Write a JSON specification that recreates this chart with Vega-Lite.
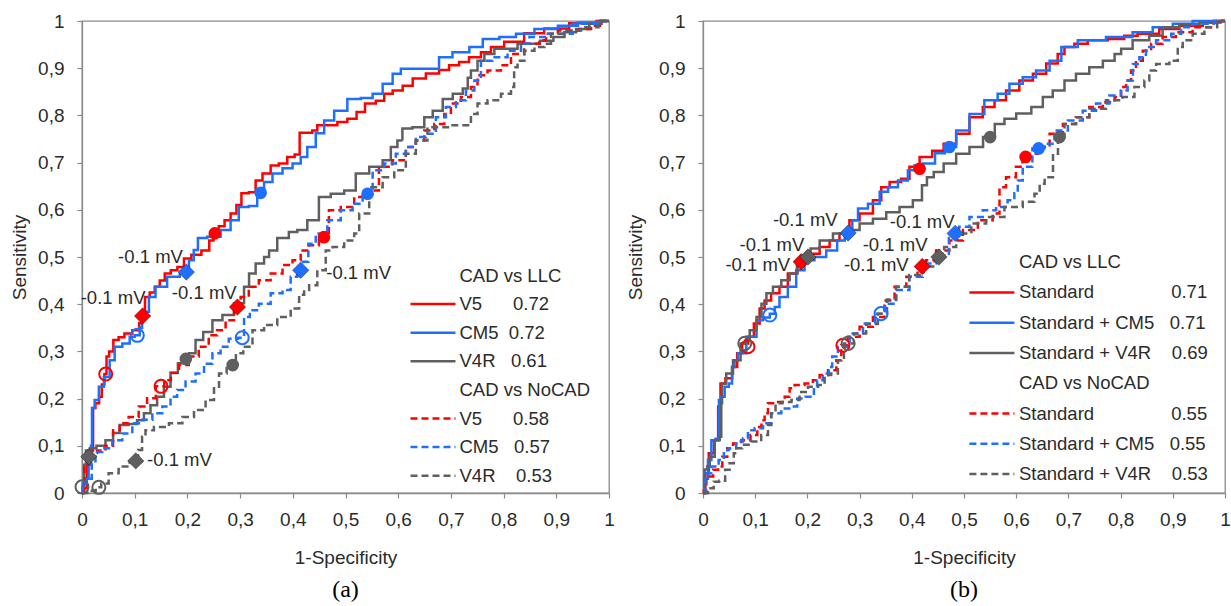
{
"$schema": "https://vega.github.io/schema/vega-lite/v6.json",
"background": "white",
"padding": {"left": 9, "top": 11, "right": 0, "bottom": 0},
"spacing": 11,
"resolve": {"scale": {"color": "independent", "strokeDash": "independent"}, "legend": {"color": "independent", "strokeDash": "independent"}},
"config": {
  "font": "Liberation Sans",
  "view": {"stroke": "#8a8a8a", "strokeWidth": 1.3},
  "axis": {"domainColor": "#8a8a8a", "domainWidth": 1.3, "tickColor": "#8a8a8a", "tickWidth": 1.2, "tickSize": 5, "grid": false, "labelFont": "Liberation Sans", "labelFontSize": 19, "labelColor": "#2b2b2b", "titleFont": "Liberation Sans", "titleFontSize": 19, "titleFontWeight": "normal", "titleColor": "#2b2b2b", "labelFlush": false, "labelOverlap": false}
},
"datasets": {
  "curvesA": [
    {"series":"LLC V5","x":0,"y":0},{"series":"LLC V5","x":0.008,"y":0.01},{"series":"LLC V5","x":0.01,"y":0.06},{"series":"LLC V5","x":0.015,"y":0.09},{"series":"LLC V5","x":0.021,"y":0.09},{"series":"LLC V5","x":0.021,"y":0.18},{"series":"LLC V5","x":0.03,"y":0.19},{"series":"LLC V5","x":0.035,"y":0.204},{"series":"LLC V5","x":0.04,"y":0.23},{"series":"LLC V5","x":0.045,"y":0.252},{"series":"LLC V5","x":0.048,"y":0.289},{"series":"LLC V5","x":0.055,"y":0.3},{"series":"LLC V5","x":0.064,"y":0.324},{"series":"LLC V5","x":0.075,"y":0.33},{"series":"LLC V5","x":0.086,"y":0.338},{"series":"LLC V5","x":0.105,"y":0.345},{"series":"LLC V5","x":0.112,"y":0.36},{"series":"LLC V5","x":0.115,"y":0.375},{"series":"LLC V5","x":0.124,"y":0.415},{"series":"LLC V5","x":0.133,"y":0.425},{"series":"LLC V5","x":0.143,"y":0.437},{"series":"LLC V5","x":0.152,"y":0.45},{"series":"LLC V5","x":0.162,"y":0.465},{"series":"LLC V5","x":0.175,"y":0.472},{"series":"LLC V5","x":0.187,"y":0.479},{"series":"LLC V5","x":0.2,"y":0.497},{"series":"LLC V5","x":0.215,"y":0.505},{"series":"LLC V5","x":0.238,"y":0.514},{"series":"LLC V5","x":0.245,"y":0.535},{"series":"LLC V5","x":0.254,"y":0.55},{"series":"LLC V5","x":0.265,"y":0.565},{"series":"LLC V5","x":0.276,"y":0.578},{"series":"LLC V5","x":0.288,"y":0.592},{"series":"LLC V5","x":0.298,"y":0.61},{"series":"LLC V5","x":0.307,"y":0.635},{"series":"LLC V5","x":0.326,"y":0.637},{"series":"LLC V5","x":0.333,"y":0.662},{"series":"LLC V5","x":0.352,"y":0.677},{"series":"LLC V5","x":0.364,"y":0.694},{"series":"LLC V5","x":0.383,"y":0.698},{"series":"LLC V5","x":0.396,"y":0.712},{"series":"LLC V5","x":0.411,"y":0.717},{"series":"LLC V5","x":0.415,"y":0.763},{"series":"LLC V5","x":0.434,"y":0.763},{"series":"LLC V5","x":0.44,"y":0.768},{"series":"LLC V5","x":0.453,"y":0.779},{"series":"LLC V5","x":0.478,"y":0.779},{"series":"LLC V5","x":0.491,"y":0.786},{"series":"LLC V5","x":0.516,"y":0.793},{"series":"LLC V5","x":0.526,"y":0.807},{"series":"LLC V5","x":0.548,"y":0.825},{"series":"LLC V5","x":0.567,"y":0.831},{"series":"LLC V5","x":0.58,"y":0.846},{"series":"LLC V5","x":0.599,"y":0.853},{"series":"LLC V5","x":0.618,"y":0.863},{"series":"LLC V5","x":0.637,"y":0.878},{"series":"LLC V5","x":0.668,"y":0.889},{"series":"LLC V5","x":0.687,"y":0.896},{"series":"LLC V5","x":0.706,"y":0.906},{"series":"LLC V5","x":0.725,"y":0.913},{"series":"LLC V5","x":0.744,"y":0.923},{"series":"LLC V5","x":0.77,"y":0.934},{"series":"LLC V5","x":0.782,"y":0.945},{"series":"LLC V5","x":0.82,"y":0.956},{"series":"LLC V5","x":0.858,"y":0.974},{"series":"LLC V5","x":0.896,"y":0.984},{"series":"LLC V5","x":0.953,"y":0.995},{"series":"LLC V5","x":1,"y":1},

    {"series":"LLC CM5","x":0,"y":0},{"series":"LLC CM5","x":0.003,"y":0.02},{"series":"LLC CM5","x":0.01,"y":0.03},{"series":"LLC CM5","x":0.015,"y":0.06},{"series":"LLC CM5","x":0.019,"y":0.1},{"series":"LLC CM5","x":0.019,"y":0.18},{"series":"LLC CM5","x":0.029,"y":0.197},{"series":"LLC CM5","x":0.035,"y":0.225},{"series":"LLC CM5","x":0.048,"y":0.246},{"series":"LLC CM5","x":0.057,"y":0.281},{"series":"LLC CM5","x":0.067,"y":0.31},{"series":"LLC CM5","x":0.086,"y":0.317},{"series":"LLC CM5","x":0.095,"y":0.331},{"series":"LLC CM5","x":0.105,"y":0.334},{"series":"LLC CM5","x":0.114,"y":0.35},{"series":"LLC CM5","x":0.114,"y":0.384},{"series":"LLC CM5","x":0.124,"y":0.384},{"series":"LLC CM5","x":0.13,"y":0.415},{"series":"LLC CM5","x":0.149,"y":0.437},{"series":"LLC CM5","x":0.174,"y":0.458},{"series":"LLC CM5","x":0.197,"y":0.465},{"series":"LLC CM5","x":0.209,"y":0.493},{"series":"LLC CM5","x":0.215,"y":0.515},{"series":"LLC CM5","x":0.225,"y":0.54},{"series":"LLC CM5","x":0.25,"y":0.543},{"series":"LLC CM5","x":0.276,"y":0.557},{"series":"LLC CM5","x":0.288,"y":0.578},{"series":"LLC CM5","x":0.307,"y":0.606},{"series":"LLC CM5","x":0.326,"y":0.608},{"series":"LLC CM5","x":0.339,"y":0.636},{"series":"LLC CM5","x":0.352,"y":0.659},{"series":"LLC CM5","x":0.371,"y":0.677},{"series":"LLC CM5","x":0.39,"y":0.688},{"series":"LLC CM5","x":0.409,"y":0.698},{"series":"LLC CM5","x":0.421,"y":0.712},{"series":"LLC CM5","x":0.434,"y":0.733},{"series":"LLC CM5","x":0.453,"y":0.762},{"series":"LLC CM5","x":0.466,"y":0.789},{"series":"LLC CM5","x":0.491,"y":0.81},{"series":"LLC CM5","x":0.516,"y":0.835},{"series":"LLC CM5","x":0.542,"y":0.837},{"series":"LLC CM5","x":0.561,"y":0.846},{"series":"LLC CM5","x":0.58,"y":0.867},{"series":"LLC CM5","x":0.599,"y":0.888},{"series":"LLC CM5","x":0.611,"y":0.899},{"series":"LLC CM5","x":0.668,"y":0.899},{"series":"LLC CM5","x":0.687,"y":0.923},{"series":"LLC CM5","x":0.719,"y":0.934},{"series":"LLC CM5","x":0.751,"y":0.945},{"series":"LLC CM5","x":0.77,"y":0.962},{"series":"LLC CM5","x":0.814,"y":0.966},{"series":"LLC CM5","x":0.833,"y":0.973},{"series":"LLC CM5","x":0.884,"y":0.983},{"series":"LLC CM5","x":0.922,"y":0.99},{"series":"LLC CM5","x":0.96,"y":0.997},{"series":"LLC CM5","x":1,"y":1},

    {"series":"LLC V4R","x":0,"y":0},{"series":"LLC V4R","x":0.003,"y":0.013},{"series":"LLC V4R","x":0.005,"y":0.06},{"series":"LLC V4R","x":0.01,"y":0.09},{"series":"LLC V4R","x":0.02,"y":0.095},{"series":"LLC V4R","x":0.035,"y":0.1},{"series":"LLC V4R","x":0.054,"y":0.112},{"series":"LLC V4R","x":0.064,"y":0.127},{"series":"LLC V4R","x":0.079,"y":0.144},{"series":"LLC V4R","x":0.098,"y":0.146},{"series":"LLC V4R","x":0.111,"y":0.154},{"series":"LLC V4R","x":0.124,"y":0.169},{"series":"LLC V4R","x":0.136,"y":0.186},{"series":"LLC V4R","x":0.149,"y":0.204},{"series":"LLC V4R","x":0.162,"y":0.225},{"series":"LLC V4R","x":0.174,"y":0.254},{"series":"LLC V4R","x":0.19,"y":0.275},{"series":"LLC V4R","x":0.197,"y":0.284},{"series":"LLC V4R","x":0.209,"y":0.296},{"series":"LLC V4R","x":0.222,"y":0.324},{"series":"LLC V4R","x":0.238,"y":0.341},{"series":"LLC V4R","x":0.257,"y":0.366},{"series":"LLC V4R","x":0.276,"y":0.377},{"series":"LLC V4R","x":0.301,"y":0.402},{"series":"LLC V4R","x":0.314,"y":0.437},{"series":"LLC V4R","x":0.32,"y":0.465},{"series":"LLC V4R","x":0.339,"y":0.486},{"series":"LLC V4R","x":0.352,"y":0.5},{"series":"LLC V4R","x":0.358,"y":0.514},{"series":"LLC V4R","x":0.383,"y":0.54},{"series":"LLC V4R","x":0.402,"y":0.553},{"series":"LLC V4R","x":0.415,"y":0.557},{"series":"LLC V4R","x":0.44,"y":0.578},{"series":"LLC V4R","x":0.459,"y":0.627},{"series":"LLC V4R","x":0.485,"y":0.634},{"series":"LLC V4R","x":0.51,"y":0.641},{"series":"LLC V4R","x":0.529,"y":0.677},{"series":"LLC V4R","x":0.561,"y":0.691},{"series":"LLC V4R","x":0.58,"y":0.705},{"series":"LLC V4R","x":0.592,"y":0.733},{"series":"LLC V4R","x":0.605,"y":0.747},{"series":"LLC V4R","x":0.611,"y":0.772},{"series":"LLC V4R","x":0.643,"y":0.775},{"series":"LLC V4R","x":0.656,"y":0.796},{"series":"LLC V4R","x":0.675,"y":0.81},{"series":"LLC V4R","x":0.694,"y":0.835},{"series":"LLC V4R","x":0.713,"y":0.846},{"series":"LLC V4R","x":0.732,"y":0.857},{"series":"LLC V4R","x":0.732,"y":0.88},{"series":"LLC V4R","x":0.744,"y":0.895},{"series":"LLC V4R","x":0.757,"y":0.916},{"series":"LLC V4R","x":0.77,"y":0.93},{"series":"LLC V4R","x":0.795,"y":0.941},{"series":"LLC V4R","x":0.858,"y":0.952},{"series":"LLC V4R","x":0.88,"y":0.958},{"series":"LLC V4R","x":0.909,"y":0.966},{"series":"LLC V4R","x":0.922,"y":0.976},{"series":"LLC V4R","x":0.953,"y":0.983},{"series":"LLC V4R","x":0.972,"y":0.994},{"series":"LLC V4R","x":1,"y":1},

    {"series":"NoCAD V5","x":0,"y":0},{"series":"NoCAD V5","x":0.004,"y":0.02},{"series":"NoCAD V5","x":0.005,"y":0.06},{"series":"NoCAD V5","x":0.022,"y":0.085},{"series":"NoCAD V5","x":0.035,"y":0.09},{"series":"NoCAD V5","x":0.054,"y":0.1},{"series":"NoCAD V5","x":0.064,"y":0.133},{"series":"NoCAD V5","x":0.079,"y":0.148},{"series":"NoCAD V5","x":0.098,"y":0.161},{"series":"NoCAD V5","x":0.117,"y":0.183},{"series":"NoCAD V5","x":0.13,"y":0.201},{"series":"NoCAD V5","x":0.15,"y":0.226},{"series":"NoCAD V5","x":0.162,"y":0.239},{"series":"NoCAD V5","x":0.175,"y":0.255},{"series":"NoCAD V5","x":0.193,"y":0.271},{"series":"NoCAD V5","x":0.212,"y":0.289},{"series":"NoCAD V5","x":0.231,"y":0.31},{"series":"NoCAD V5","x":0.25,"y":0.334},{"series":"NoCAD V5","x":0.263,"y":0.345},{"series":"NoCAD V5","x":0.282,"y":0.366},{"series":"NoCAD V5","x":0.295,"y":0.394},{"series":"NoCAD V5","x":0.307,"y":0.415},{"series":"NoCAD V5","x":0.326,"y":0.437},{"series":"NoCAD V5","x":0.345,"y":0.451},{"series":"NoCAD V5","x":0.371,"y":0.465},{"series":"NoCAD V5","x":0.39,"y":0.483},{"series":"NoCAD V5","x":0.409,"y":0.493},{"series":"NoCAD V5","x":0.421,"y":0.514},{"series":"NoCAD V5","x":0.44,"y":0.525},{"series":"NoCAD V5","x":0.459,"y":0.543},{"series":"NoCAD V5","x":0.478,"y":0.599},{"series":"NoCAD V5","x":0.504,"y":0.606},{"series":"NoCAD V5","x":0.529,"y":0.627},{"series":"NoCAD V5","x":0.554,"y":0.641},{"series":"NoCAD V5","x":0.573,"y":0.691},{"series":"NoCAD V5","x":0.605,"y":0.705},{"series":"NoCAD V5","x":0.624,"y":0.733},{"series":"NoCAD V5","x":0.643,"y":0.747},{"series":"NoCAD V5","x":0.656,"y":0.768},{"series":"NoCAD V5","x":0.681,"y":0.782},{"series":"NoCAD V5","x":0.694,"y":0.803},{"series":"NoCAD V5","x":0.706,"y":0.825},{"series":"NoCAD V5","x":0.732,"y":0.839},{"series":"NoCAD V5","x":0.744,"y":0.86},{"series":"NoCAD V5","x":0.757,"y":0.885},{"series":"NoCAD V5","x":0.782,"y":0.895},{"series":"NoCAD V5","x":0.808,"y":0.906},{"series":"NoCAD V5","x":0.82,"y":0.93},{"series":"NoCAD V5","x":0.858,"y":0.952},{"series":"NoCAD V5","x":0.877,"y":0.959},{"series":"NoCAD V5","x":0.884,"y":0.973},{"series":"NoCAD V5","x":0.922,"y":0.98},{"series":"NoCAD V5","x":0.966,"y":0.983},{"series":"NoCAD V5","x":0.966,"y":0.99},{"series":"NoCAD V5","x":1,"y":1},

    {"series":"NoCAD CM5","x":0,"y":0},{"series":"NoCAD CM5","x":0.003,"y":0.02},{"series":"NoCAD CM5","x":0.015,"y":0.03},{"series":"NoCAD CM5","x":0.022,"y":0.063},{"series":"NoCAD CM5","x":0.029,"y":0.087},{"series":"NoCAD CM5","x":0.048,"y":0.095},{"series":"NoCAD CM5","x":0.067,"y":0.112},{"series":"NoCAD CM5","x":0.086,"y":0.126},{"series":"NoCAD CM5","x":0.105,"y":0.148},{"series":"NoCAD CM5","x":0.124,"y":0.155},{"series":"NoCAD CM5","x":0.143,"y":0.169},{"series":"NoCAD CM5","x":0.162,"y":0.183},{"series":"NoCAD CM5","x":0.174,"y":0.204},{"series":"NoCAD CM5","x":0.187,"y":0.218},{"series":"NoCAD CM5","x":0.206,"y":0.236},{"series":"NoCAD CM5","x":0.225,"y":0.253},{"series":"NoCAD CM5","x":0.238,"y":0.274},{"series":"NoCAD CM5","x":0.257,"y":0.296},{"series":"NoCAD CM5","x":0.269,"y":0.31},{"series":"NoCAD CM5","x":0.288,"y":0.327},{"series":"NoCAD CM5","x":0.304,"y":0.329},{"series":"NoCAD CM5","x":0.311,"y":0.373},{"series":"NoCAD CM5","x":0.326,"y":0.387},{"series":"NoCAD CM5","x":0.345,"y":0.401},{"series":"NoCAD CM5","x":0.371,"y":0.423},{"series":"NoCAD CM5","x":0.39,"y":0.43},{"series":"NoCAD CM5","x":0.402,"y":0.458},{"series":"NoCAD CM5","x":0.415,"y":0.472},{"series":"NoCAD CM5","x":0.425,"y":0.49},{"series":"NoCAD CM5","x":0.434,"y":0.528},{"series":"NoCAD CM5","x":0.453,"y":0.55},{"series":"NoCAD CM5","x":0.478,"y":0.578},{"series":"NoCAD CM5","x":0.504,"y":0.599},{"series":"NoCAD CM5","x":0.523,"y":0.613},{"series":"NoCAD CM5","x":0.542,"y":0.634},{"series":"NoCAD CM5","x":0.561,"y":0.684},{"series":"NoCAD CM5","x":0.586,"y":0.698},{"series":"NoCAD CM5","x":0.605,"y":0.719},{"series":"NoCAD CM5","x":0.624,"y":0.733},{"series":"NoCAD CM5","x":0.643,"y":0.754},{"series":"NoCAD CM5","x":0.662,"y":0.761},{"series":"NoCAD CM5","x":0.681,"y":0.796},{"series":"NoCAD CM5","x":0.7,"y":0.818},{"series":"NoCAD CM5","x":0.719,"y":0.832},{"series":"NoCAD CM5","x":0.738,"y":0.853},{"series":"NoCAD CM5","x":0.751,"y":0.874},{"series":"NoCAD CM5","x":0.763,"y":0.916},{"series":"NoCAD CM5","x":0.795,"y":0.923},{"series":"NoCAD CM5","x":0.82,"y":0.937},{"series":"NoCAD CM5","x":0.846,"y":0.952},{"series":"NoCAD CM5","x":0.852,"y":0.966},{"series":"NoCAD CM5","x":0.909,"y":0.973},{"series":"NoCAD CM5","x":0.953,"y":0.994},{"series":"NoCAD CM5","x":1,"y":1},

    {"series":"NoCAD V4R","x":0,"y":0},{"series":"NoCAD V4R","x":0.02,"y":0.005},{"series":"NoCAD V4R","x":0.032,"y":0.012},{"series":"NoCAD V4R","x":0.041,"y":0.02},{"series":"NoCAD V4R","x":0.06,"y":0.042},{"series":"NoCAD V4R","x":0.079,"y":0.056},{"series":"NoCAD V4R","x":0.102,"y":0.068},{"series":"NoCAD V4R","x":0.111,"y":0.091},{"series":"NoCAD V4R","x":0.117,"y":0.119},{"series":"NoCAD V4R","x":0.124,"y":0.133},{"series":"NoCAD V4R","x":0.149,"y":0.14},{"series":"NoCAD V4R","x":0.181,"y":0.148},{"series":"NoCAD V4R","x":0.2,"y":0.161},{"series":"NoCAD V4R","x":0.225,"y":0.176},{"series":"NoCAD V4R","x":0.244,"y":0.197},{"series":"NoCAD V4R","x":0.257,"y":0.225},{"series":"NoCAD V4R","x":0.263,"y":0.253},{"series":"NoCAD V4R","x":0.286,"y":0.271},{"series":"NoCAD V4R","x":0.298,"y":0.296},{"series":"NoCAD V4R","x":0.314,"y":0.31},{"series":"NoCAD V4R","x":0.333,"y":0.345},{"series":"NoCAD V4R","x":0.358,"y":0.356},{"series":"NoCAD V4R","x":0.383,"y":0.373},{"series":"NoCAD V4R","x":0.409,"y":0.391},{"series":"NoCAD V4R","x":0.415,"y":0.42},{"series":"NoCAD V4R","x":0.428,"y":0.43},{"series":"NoCAD V4R","x":0.434,"y":0.44},{"series":"NoCAD V4R","x":0.459,"y":0.472},{"series":"NoCAD V4R","x":0.466,"y":0.514},{"series":"NoCAD V4R","x":0.485,"y":0.521},{"series":"NoCAD V4R","x":0.51,"y":0.535},{"series":"NoCAD V4R","x":0.523,"y":0.55},{"series":"NoCAD V4R","x":0.529,"y":0.592},{"series":"NoCAD V4R","x":0.561,"y":0.648},{"series":"NoCAD V4R","x":0.58,"y":0.669},{"series":"NoCAD V4R","x":0.605,"y":0.684},{"series":"NoCAD V4R","x":0.624,"y":0.719},{"series":"NoCAD V4R","x":0.643,"y":0.747},{"series":"NoCAD V4R","x":0.668,"y":0.775},{"series":"NoCAD V4R","x":0.732,"y":0.779},{"series":"NoCAD V4R","x":0.744,"y":0.803},{"series":"NoCAD V4R","x":0.757,"y":0.825},{"series":"NoCAD V4R","x":0.782,"y":0.832},{"series":"NoCAD V4R","x":0.808,"y":0.846},{"series":"NoCAD V4R","x":0.82,"y":0.86},{"series":"NoCAD V4R","x":0.82,"y":0.902},{"series":"NoCAD V4R","x":0.833,"y":0.916},{"series":"NoCAD V4R","x":0.846,"y":0.937},{"series":"NoCAD V4R","x":0.871,"y":0.945},{"series":"NoCAD V4R","x":0.884,"y":0.952},{"series":"NoCAD V4R","x":0.896,"y":0.973},{"series":"NoCAD V4R","x":0.934,"y":0.98},{"series":"NoCAD V4R","x":0.96,"y":0.987},{"series":"NoCAD V4R","x":1,"y":1}
  ],
  "markersA": [
    {"series":"LLC V5","kind":"open","x":0.045,"y":0.252},{"series":"LLC V5","kind":"diamond","x":0.115,"y":0.375},{"series":"LLC V5","kind":"dot","x":0.252,"y":0.55},
    {"series":"LLC CM5","kind":"open","x":0.105,"y":0.334},{"series":"LLC CM5","kind":"diamond","x":0.198,"y":0.468},{"series":"LLC CM5","kind":"dot","x":0.339,"y":0.636},
    {"series":"LLC V4R","kind":"open","x":0,"y":0.013},{"series":"LLC V4R","kind":"diamond","x":0.013,"y":0.077},{"series":"LLC V4R","kind":"dot","x":0.197,"y":0.284},
    {"series":"NoCAD V5","kind":"open","x":0.15,"y":0.226},{"series":"NoCAD V5","kind":"diamond","x":0.295,"y":0.394},{"series":"NoCAD V5","kind":"dot","x":0.459,"y":0.542},
    {"series":"NoCAD CM5","kind":"open","x":0.304,"y":0.329},{"series":"NoCAD CM5","kind":"diamond","x":0.415,"y":0.472},{"series":"NoCAD CM5","kind":"dot","x":0.542,"y":0.634},
    {"series":"NoCAD V4R","kind":"open","x":0.032,"y":0.012},{"series":"NoCAD V4R","kind":"diamond","x":0.102,"y":0.068},{"series":"NoCAD V4R","kind":"dot","x":0.286,"y":0.271}
  ],
  "labelsA": [
    {"x":0.13,"y":0.4995,"text":"-0.1 mV"},{"x":0.059,"y":0.413,"text":"-0.1 mV"},{"x":0.232,"y":0.423,"text":"-0.1 mV"},{"x":0.525,"y":0.466,"text":"-0.1 mV"},{"x":0.185,"y":0.07,"text":"-0.1 mV"}
  ],
  "curvesB": [
    {"series":"LLC Standard","x":0,"y":0},{"series":"LLC Standard","x":0.003,"y":0.005},{"series":"LLC Standard","x":0.006,"y":0.042},{"series":"LLC Standard","x":0.016,"y":0.084},{"series":"LLC Standard","x":0.026,"y":0.112},{"series":"LLC Standard","x":0.032,"y":0.183},{"series":"LLC Standard","x":0.035,"y":0.232},{"series":"LLC Standard","x":0.051,"y":0.243},{"series":"LLC Standard","x":0.061,"y":0.267},{"series":"LLC Standard","x":0.07,"y":0.296},{"series":"LLC Standard","x":0.08,"y":0.317},{"series":"LLC Standard","x":0.093,"y":0.331},{"series":"LLC Standard","x":0.102,"y":0.359},{"series":"LLC Standard","x":0.115,"y":0.391},{"series":"LLC Standard","x":0.121,"y":0.408},{"series":"LLC Standard","x":0.14,"y":0.423},{"series":"LLC Standard","x":0.153,"y":0.437},{"series":"LLC Standard","x":0.172,"y":0.465},{"series":"LLC Standard","x":0.188,"y":0.49},{"series":"LLC Standard","x":0.211,"y":0.507},{"series":"LLC Standard","x":0.236,"y":0.521},{"series":"LLC Standard","x":0.249,"y":0.535},{"series":"LLC Standard","x":0.274,"y":0.55},{"series":"LLC Standard","x":0.287,"y":0.578},{"series":"LLC Standard","x":0.313,"y":0.592},{"series":"LLC Standard","x":0.338,"y":0.62},{"series":"LLC Standard","x":0.345,"y":0.648},{"series":"LLC Standard","x":0.37,"y":0.659},{"series":"LLC Standard","x":0.389,"y":0.666},{"series":"LLC Standard","x":0.402,"y":0.691},{"series":"LLC Standard","x":0.428,"y":0.712},{"series":"LLC Standard","x":0.45,"y":0.725},{"series":"LLC Standard","x":0.472,"y":0.74},{"series":"LLC Standard","x":0.498,"y":0.761},{"series":"LLC Standard","x":0.523,"y":0.796},{"series":"LLC Standard","x":0.549,"y":0.818},{"series":"LLC Standard","x":0.568,"y":0.832},{"series":"LLC Standard","x":0.593,"y":0.853},{"series":"LLC Standard","x":0.619,"y":0.874},{"series":"LLC Standard","x":0.645,"y":0.888},{"series":"LLC Standard","x":0.67,"y":0.91},{"series":"LLC Standard","x":0.689,"y":0.93},{"series":"LLC Standard","x":0.696,"y":0.945},{"series":"LLC Standard","x":0.727,"y":0.952},{"series":"LLC Standard","x":0.747,"y":0.959},{"series":"LLC Standard","x":0.804,"y":0.962},{"series":"LLC Standard","x":0.81,"y":0.969},{"series":"LLC Standard","x":0.855,"y":0.973},{"series":"LLC Standard","x":0.893,"y":0.983},{"series":"LLC Standard","x":0.932,"y":0.99},{"series":"LLC Standard","x":0.983,"y":0.997},{"series":"LLC Standard","x":1,"y":1},

    {"series":"LLC Standard + CM5","x":0,"y":0},{"series":"LLC Standard + CM5","x":0.006,"y":0.03},{"series":"LLC Standard + CM5","x":0.013,"y":0.07},{"series":"LLC Standard + CM5","x":0.019,"y":0.112},{"series":"LLC Standard + CM5","x":0.029,"y":0.115},{"series":"LLC Standard + CM5","x":0.032,"y":0.197},{"series":"LLC Standard + CM5","x":0.038,"y":0.204},{"series":"LLC Standard + CM5","x":0.045,"y":0.225},{"series":"LLC Standard + CM5","x":0.054,"y":0.232},{"series":"LLC Standard + CM5","x":0.057,"y":0.267},{"series":"LLC Standard + CM5","x":0.064,"y":0.281},{"series":"LLC Standard + CM5","x":0.07,"y":0.296},{"series":"LLC Standard + CM5","x":0.096,"y":0.331},{"series":"LLC Standard + CM5","x":0.109,"y":0.366},{"series":"LLC Standard + CM5","x":0.121,"y":0.372},{"series":"LLC Standard + CM5","x":0.135,"y":0.38},{"series":"LLC Standard + CM5","x":0.14,"y":0.394},{"series":"LLC Standard + CM5","x":0.153,"y":0.415},{"series":"LLC Standard + CM5","x":0.172,"y":0.437},{"series":"LLC Standard + CM5","x":0.185,"y":0.472},{"series":"LLC Standard + CM5","x":0.204,"y":0.493},{"series":"LLC Standard + CM5","x":0.223,"y":0.5},{"series":"LLC Standard + CM5","x":0.249,"y":0.514},{"series":"LLC Standard + CM5","x":0.265,"y":0.535},{"series":"LLC Standard + CM5","x":0.278,"y":0.551},{"series":"LLC Standard + CM5","x":0.294,"y":0.578},{"series":"LLC Standard + CM5","x":0.3,"y":0.603},{"series":"LLC Standard + CM5","x":0.332,"y":0.613},{"series":"LLC Standard + CM5","x":0.345,"y":0.638},{"series":"LLC Standard + CM5","x":0.364,"y":0.648},{"series":"LLC Standard + CM5","x":0.383,"y":0.662},{"series":"LLC Standard + CM5","x":0.402,"y":0.684},{"series":"LLC Standard + CM5","x":0.408,"y":0.694},{"series":"LLC Standard + CM5","x":0.434,"y":0.698},{"series":"LLC Standard + CM5","x":0.455,"y":0.72},{"series":"LLC Standard + CM5","x":0.472,"y":0.733},{"series":"LLC Standard + CM5","x":0.498,"y":0.768},{"series":"LLC Standard + CM5","x":0.523,"y":0.803},{"series":"LLC Standard + CM5","x":0.555,"y":0.832},{"series":"LLC Standard + CM5","x":0.574,"y":0.846},{"series":"LLC Standard + CM5","x":0.6,"y":0.867},{"series":"LLC Standard + CM5","x":0.625,"y":0.881},{"series":"LLC Standard + CM5","x":0.651,"y":0.895},{"series":"LLC Standard + CM5","x":0.677,"y":0.916},{"series":"LLC Standard + CM5","x":0.696,"y":0.945},{"series":"LLC Standard + CM5","x":0.74,"y":0.959},{"series":"LLC Standard + CM5","x":0.804,"y":0.966},{"series":"LLC Standard + CM5","x":0.842,"y":0.976},{"series":"LLC Standard + CM5","x":0.881,"y":0.987},{"series":"LLC Standard + CM5","x":0.919,"y":0.994},{"series":"LLC Standard + CM5","x":0.957,"y":1},{"series":"LLC Standard + CM5","x":1,"y":1},

    {"series":"LLC Standard + V4R","x":0,"y":0},{"series":"LLC Standard + V4R","x":0.006,"y":0.05},{"series":"LLC Standard + V4R","x":0.01,"y":0.056},{"series":"LLC Standard + V4R","x":0.016,"y":0.077},{"series":"LLC Standard + V4R","x":0.029,"y":0.112},{"series":"LLC Standard + V4R","x":0.035,"y":0.119},{"series":"LLC Standard + V4R","x":0.035,"y":0.19},{"series":"LLC Standard + V4R","x":0.038,"y":0.232},{"series":"LLC Standard + V4R","x":0.051,"y":0.253},{"series":"LLC Standard + V4R","x":0.064,"y":0.281},{"series":"LLC Standard + V4R","x":0.08,"y":0.317},{"series":"LLC Standard + V4R","x":0.083,"y":0.324},{"series":"LLC Standard + V4R","x":0.096,"y":0.345},{"series":"LLC Standard + V4R","x":0.109,"y":0.373},{"series":"LLC Standard + V4R","x":0.115,"y":0.401},{"series":"LLC Standard + V4R","x":0.128,"y":0.423},{"series":"LLC Standard + V4R","x":0.14,"y":0.437},{"series":"LLC Standard + V4R","x":0.16,"y":0.451},{"series":"LLC Standard + V4R","x":0.172,"y":0.465},{"series":"LLC Standard + V4R","x":0.19,"y":0.49},{"series":"LLC Standard + V4R","x":0.201,"y":0.5},{"series":"LLC Standard + V4R","x":0.211,"y":0.518},{"series":"LLC Standard + V4R","x":0.236,"y":0.535},{"series":"LLC Standard + V4R","x":0.262,"y":0.55},{"series":"LLC Standard + V4R","x":0.287,"y":0.557},{"series":"LLC Standard + V4R","x":0.313,"y":0.571},{"series":"LLC Standard + V4R","x":0.338,"y":0.581},{"series":"LLC Standard + V4R","x":0.364,"y":0.595},{"series":"LLC Standard + V4R","x":0.389,"y":0.606},{"series":"LLC Standard + V4R","x":0.415,"y":0.62},{"series":"LLC Standard + V4R","x":0.424,"y":0.652},{"series":"LLC Standard + V4R","x":0.434,"y":0.669},{"series":"LLC Standard + V4R","x":0.45,"y":0.68},{"series":"LLC Standard + V4R","x":0.472,"y":0.698},{"series":"LLC Standard + V4R","x":0.498,"y":0.719},{"series":"LLC Standard + V4R","x":0.523,"y":0.733},{"series":"LLC Standard + V4R","x":0.55,"y":0.754},{"series":"LLC Standard + V4R","x":0.568,"y":0.782},{"series":"LLC Standard + V4R","x":0.587,"y":0.793},{"series":"LLC Standard + V4R","x":0.613,"y":0.804},{"series":"LLC Standard + V4R","x":0.645,"y":0.818},{"series":"LLC Standard + V4R","x":0.657,"y":0.839},{"series":"LLC Standard + V4R","x":0.683,"y":0.853},{"series":"LLC Standard + V4R","x":0.702,"y":0.874},{"series":"LLC Standard + V4R","x":0.727,"y":0.888},{"series":"LLC Standard + V4R","x":0.753,"y":0.902},{"series":"LLC Standard + V4R","x":0.779,"y":0.916},{"series":"LLC Standard + V4R","x":0.798,"y":0.93},{"series":"LLC Standard + V4R","x":0.804,"y":0.941},{"series":"LLC Standard + V4R","x":0.842,"y":0.959},{"series":"LLC Standard + V4R","x":0.868,"y":0.969},{"series":"LLC Standard + V4R","x":0.893,"y":0.987},{"series":"LLC Standard + V4R","x":0.932,"y":0.993},{"series":"LLC Standard + V4R","x":0.97,"y":0.997},{"series":"LLC Standard + V4R","x":1,"y":1},

    {"series":"NoCAD Standard","x":0,"y":0},{"series":"NoCAD Standard","x":0.013,"y":0.035},{"series":"NoCAD Standard","x":0.026,"y":0.049},{"series":"NoCAD Standard","x":0.032,"y":0.056},{"series":"NoCAD Standard","x":0.042,"y":0.077},{"series":"NoCAD Standard","x":0.051,"y":0.095},{"series":"NoCAD Standard","x":0.064,"y":0.105},{"series":"NoCAD Standard","x":0.083,"y":0.112},{"series":"NoCAD Standard","x":0.099,"y":0.123},{"series":"NoCAD Standard","x":0.109,"y":0.14},{"series":"NoCAD Standard","x":0.115,"y":0.154},{"series":"NoCAD Standard","x":0.121,"y":0.169},{"series":"NoCAD Standard","x":0.128,"y":0.19},{"series":"NoCAD Standard","x":0.147,"y":0.193},{"series":"NoCAD Standard","x":0.166,"y":0.204},{"series":"NoCAD Standard","x":0.166,"y":0.222},{"series":"NoCAD Standard","x":0.185,"y":0.229},{"series":"NoCAD Standard","x":0.204,"y":0.232},{"series":"NoCAD Standard","x":0.217,"y":0.239},{"series":"NoCAD Standard","x":0.23,"y":0.25},{"series":"NoCAD Standard","x":0.249,"y":0.26},{"series":"NoCAD Standard","x":0.262,"y":0.281},{"series":"NoCAD Standard","x":0.268,"y":0.313},{"series":"NoCAD Standard","x":0.287,"y":0.331},{"series":"NoCAD Standard","x":0.313,"y":0.352},{"series":"NoCAD Standard","x":0.338,"y":0.373},{"series":"NoCAD Standard","x":0.357,"y":0.408},{"series":"NoCAD Standard","x":0.377,"y":0.437},{"series":"NoCAD Standard","x":0.402,"y":0.458},{"series":"NoCAD Standard","x":0.42,"y":0.48},{"series":"NoCAD Standard","x":0.434,"y":0.493},{"series":"NoCAD Standard","x":0.459,"y":0.514},{"series":"NoCAD Standard","x":0.485,"y":0.535},{"series":"NoCAD Standard","x":0.511,"y":0.557},{"series":"NoCAD Standard","x":0.542,"y":0.578},{"series":"NoCAD Standard","x":0.568,"y":0.592},{"series":"NoCAD Standard","x":0.568,"y":0.648},{"series":"NoCAD Standard","x":0.593,"y":0.669},{"series":"NoCAD Standard","x":0.606,"y":0.691},{"series":"NoCAD Standard","x":0.618,"y":0.712},{"series":"NoCAD Standard","x":0.632,"y":0.719},{"series":"NoCAD Standard","x":0.651,"y":0.733},{"series":"NoCAD Standard","x":0.677,"y":0.761},{"series":"NoCAD Standard","x":0.702,"y":0.782},{"series":"NoCAD Standard","x":0.727,"y":0.796},{"series":"NoCAD Standard","x":0.753,"y":0.818},{"series":"NoCAD Standard","x":0.779,"y":0.828},{"series":"NoCAD Standard","x":0.798,"y":0.839},{"series":"NoCAD Standard","x":0.804,"y":0.86},{"series":"NoCAD Standard","x":0.817,"y":0.874},{"series":"NoCAD Standard","x":0.823,"y":0.895},{"series":"NoCAD Standard","x":0.836,"y":0.916},{"series":"NoCAD Standard","x":0.849,"y":0.937},{"series":"NoCAD Standard","x":0.868,"y":0.952},{"series":"NoCAD Standard","x":0.893,"y":0.966},{"series":"NoCAD Standard","x":0.919,"y":0.976},{"series":"NoCAD Standard","x":0.957,"y":0.987},{"series":"NoCAD Standard","x":1,"y":1},

    {"series":"NoCAD Standard + CM5","x":0,"y":0},{"series":"NoCAD Standard + CM5","x":0.01,"y":0.042},{"series":"NoCAD Standard + CM5","x":0.022,"y":0.056},{"series":"NoCAD Standard + CM5","x":0.038,"y":0.07},{"series":"NoCAD Standard + CM5","x":0.042,"y":0.091},{"series":"NoCAD Standard + CM5","x":0.057,"y":0.095},{"series":"NoCAD Standard + CM5","x":0.07,"y":0.109},{"series":"NoCAD Standard + CM5","x":0.083,"y":0.116},{"series":"NoCAD Standard + CM5","x":0.089,"y":0.133},{"series":"NoCAD Standard + CM5","x":0.109,"y":0.137},{"series":"NoCAD Standard + CM5","x":0.121,"y":0.148},{"series":"NoCAD Standard + CM5","x":0.14,"y":0.169},{"series":"NoCAD Standard + CM5","x":0.16,"y":0.179},{"series":"NoCAD Standard + CM5","x":0.179,"y":0.183},{"series":"NoCAD Standard + CM5","x":0.182,"y":0.2},{"series":"NoCAD Standard + CM5","x":0.211,"y":0.204},{"series":"NoCAD Standard + CM5","x":0.214,"y":0.225},{"series":"NoCAD Standard + CM5","x":0.223,"y":0.239},{"series":"NoCAD Standard + CM5","x":0.236,"y":0.253},{"series":"NoCAD Standard + CM5","x":0.246,"y":0.267},{"series":"NoCAD Standard + CM5","x":0.249,"y":0.289},{"series":"NoCAD Standard + CM5","x":0.268,"y":0.31},{"series":"NoCAD Standard + CM5","x":0.294,"y":0.338},{"series":"NoCAD Standard + CM5","x":0.319,"y":0.359},{"series":"NoCAD Standard + CM5","x":0.341,"y":0.38},{"series":"NoCAD Standard + CM5","x":0.357,"y":0.401},{"series":"NoCAD Standard + CM5","x":0.383,"y":0.43},{"series":"NoCAD Standard + CM5","x":0.408,"y":0.458},{"series":"NoCAD Standard + CM5","x":0.434,"y":0.486},{"series":"NoCAD Standard + CM5","x":0.459,"y":0.507},{"series":"NoCAD Standard + CM5","x":0.483,"y":0.55},{"series":"NoCAD Standard + CM5","x":0.498,"y":0.564},{"series":"NoCAD Standard + CM5","x":0.523,"y":0.585},{"series":"NoCAD Standard + CM5","x":0.549,"y":0.599},{"series":"NoCAD Standard + CM5","x":0.574,"y":0.606},{"series":"NoCAD Standard + CM5","x":0.593,"y":0.62},{"series":"NoCAD Standard + CM5","x":0.6,"y":0.635},{"series":"NoCAD Standard + CM5","x":0.606,"y":0.662},{"series":"NoCAD Standard + CM5","x":0.619,"y":0.691},{"series":"NoCAD Standard + CM5","x":0.643,"y":0.73},{"series":"NoCAD Standard + CM5","x":0.664,"y":0.74},{"series":"NoCAD Standard + CM5","x":0.683,"y":0.768},{"series":"NoCAD Standard + CM5","x":0.715,"y":0.789},{"series":"NoCAD Standard + CM5","x":0.74,"y":0.81},{"series":"NoCAD Standard + CM5","x":0.766,"y":0.825},{"series":"NoCAD Standard + CM5","x":0.791,"y":0.842},{"series":"NoCAD Standard + CM5","x":0.81,"y":0.853},{"series":"NoCAD Standard + CM5","x":0.817,"y":0.874},{"series":"NoCAD Standard + CM5","x":0.83,"y":0.909},{"series":"NoCAD Standard + CM5","x":0.842,"y":0.923},{"series":"NoCAD Standard + CM5","x":0.855,"y":0.945},{"series":"NoCAD Standard + CM5","x":0.881,"y":0.959},{"series":"NoCAD Standard + CM5","x":0.913,"y":0.973},{"series":"NoCAD Standard + CM5","x":0.919,"y":0.987},{"series":"NoCAD Standard + CM5","x":0.957,"y":0.994},{"series":"NoCAD Standard + CM5","x":1,"y":1},

    {"series":"NoCAD Standard + V4R","x":0,"y":0},{"series":"NoCAD Standard + V4R","x":0.019,"y":0.01},{"series":"NoCAD Standard + V4R","x":0.022,"y":0.024},{"series":"NoCAD Standard + V4R","x":0.04,"y":0.026},{"series":"NoCAD Standard + V4R","x":0.045,"y":0.049},{"series":"NoCAD Standard + V4R","x":0.057,"y":0.063},{"series":"NoCAD Standard + V4R","x":0.061,"y":0.084},{"series":"NoCAD Standard + V4R","x":0.067,"y":0.095},{"series":"NoCAD Standard + V4R","x":0.083,"y":0.102},{"series":"NoCAD Standard + V4R","x":0.102,"y":0.109},{"series":"NoCAD Standard + V4R","x":0.121,"y":0.123},{"series":"NoCAD Standard + V4R","x":0.128,"y":0.144},{"series":"NoCAD Standard + V4R","x":0.134,"y":0.169},{"series":"NoCAD Standard + V4R","x":0.144,"y":0.19},{"series":"NoCAD Standard + V4R","x":0.16,"y":0.193},{"series":"NoCAD Standard + V4R","x":0.179,"y":0.197},{"series":"NoCAD Standard + V4R","x":0.191,"y":0.214},{"series":"NoCAD Standard + V4R","x":0.211,"y":0.225},{"series":"NoCAD Standard + V4R","x":0.23,"y":0.229},{"series":"NoCAD Standard + V4R","x":0.236,"y":0.25},{"series":"NoCAD Standard + V4R","x":0.255,"y":0.253},{"series":"NoCAD Standard + V4R","x":0.262,"y":0.281},{"series":"NoCAD Standard + V4R","x":0.278,"y":0.317},{"series":"NoCAD Standard + V4R","x":0.3,"y":0.338},{"series":"NoCAD Standard + V4R","x":0.325,"y":0.358},{"series":"NoCAD Standard + V4R","x":0.345,"y":0.38},{"series":"NoCAD Standard + V4R","x":0.36,"y":0.41},{"series":"NoCAD Standard + V4R","x":0.38,"y":0.437},{"series":"NoCAD Standard + V4R","x":0.41,"y":0.462},{"series":"NoCAD Standard + V4R","x":0.435,"y":0.48},{"series":"NoCAD Standard + V4R","x":0.452,"y":0.5},{"series":"NoCAD Standard + V4R","x":0.472,"y":0.521},{"series":"NoCAD Standard + V4R","x":0.498,"y":0.55},{"series":"NoCAD Standard + V4R","x":0.53,"y":0.571},{"series":"NoCAD Standard + V4R","x":0.555,"y":0.585},{"series":"NoCAD Standard + V4R","x":0.6,"y":0.606},{"series":"NoCAD Standard + V4R","x":0.625,"y":0.617},{"series":"NoCAD Standard + V4R","x":0.645,"y":0.634},{"series":"NoCAD Standard + V4R","x":0.645,"y":0.655},{"series":"NoCAD Standard + V4R","x":0.664,"y":0.669},{"series":"NoCAD Standard + V4R","x":0.677,"y":0.719},{"series":"NoCAD Standard + V4R","x":0.683,"y":0.754},{"series":"NoCAD Standard + V4R","x":0.702,"y":0.782},{"series":"NoCAD Standard + V4R","x":0.727,"y":0.796},{"series":"NoCAD Standard + V4R","x":0.753,"y":0.814},{"series":"NoCAD Standard + V4R","x":0.791,"y":0.832},{"series":"NoCAD Standard + V4R","x":0.817,"y":0.839},{"series":"NoCAD Standard + V4R","x":0.836,"y":0.86},{"series":"NoCAD Standard + V4R","x":0.855,"y":0.874},{"series":"NoCAD Standard + V4R","x":0.855,"y":0.895},{"series":"NoCAD Standard + V4R","x":0.881,"y":0.909},{"series":"NoCAD Standard + V4R","x":0.906,"y":0.916},{"series":"NoCAD Standard + V4R","x":0.913,"y":0.945},{"series":"NoCAD Standard + V4R","x":0.925,"y":0.959},{"series":"NoCAD Standard + V4R","x":0.951,"y":0.973},{"series":"NoCAD Standard + V4R","x":0.97,"y":0.987},{"series":"NoCAD Standard + V4R","x":1,"y":1}
  ],
  "markersB": [
    {"series":"LLC Standard","kind":"open","x":0.086,"y":0.31},{"series":"LLC Standard","kind":"diamond","x":0.188,"y":0.49},{"series":"LLC Standard","kind":"dot","x":0.415,"y":0.687},
    {"series":"LLC Standard + CM5","kind":"open","x":0.128,"y":0.377},{"series":"LLC Standard + CM5","kind":"diamond","x":0.278,"y":0.551},{"series":"LLC Standard + CM5","kind":"dot","x":0.472,"y":0.733},
    {"series":"LLC Standard + V4R","kind":"open","x":0.08,"y":0.317},{"series":"LLC Standard + V4R","kind":"diamond","x":0.201,"y":0.5},{"series":"LLC Standard + V4R","kind":"dot","x":0.55,"y":0.754},
    {"series":"NoCAD Standard","kind":"open","x":0.268,"y":0.313},{"series":"NoCAD Standard","kind":"diamond","x":0.42,"y":0.48},{"series":"NoCAD Standard","kind":"dot","x":0.618,"y":0.712},
    {"series":"NoCAD Standard + CM5","kind":"open","x":0.341,"y":0.38},{"series":"NoCAD Standard + CM5","kind":"diamond","x":0.483,"y":0.55},{"series":"NoCAD Standard + CM5","kind":"dot","x":0.643,"y":0.73},
    {"series":"NoCAD Standard + V4R","kind":"open","x":0.278,"y":0.317},{"series":"NoCAD Standard + V4R","kind":"diamond","x":0.452,"y":0.5},{"series":"NoCAD Standard + V4R","kind":"dot","x":0.683,"y":0.754}
  ],
  "labelsB": [
    {"x":0.196,"y":0.578,"text":"-0.1 mV"},{"x":0.132,"y":0.525,"text":"-0.1 mV"},{"x":0.105,"y":0.483,"text":"-0.1 mV"},{"x":0.42,"y":0.574,"text":"-0.1 mV"},{"x":0.368,"y":0.525,"text":"-0.1 mV"},{"x":0.332,"y":0.483,"text":"-0.1 mV"}
  ]
},
"hconcat": [
  {
    "width": 527, "height": 472,
    "title": {"text": "(a)", "orient": "bottom", "frame": "group", "anchor": "middle", "font": "Liberation Serif", "fontSize": 24, "fontWeight": "normal", "color": "#000000", "offset": 10},
    "encoding": {
      "x": {"field": "x", "type": "quantitative", "scale": {"domain": [0, 1], "nice": false, "zero": false}, "axis": {"title": "1-Specificity", "values": [0,0.1,0.2,0.3,0.4,0.5,0.6,0.7,0.8,0.9,1], "labelExpr": "replace(format(datum.value, '.1~f'), '.', ',')", "labelPadding": 12.5, "titlePadding": 19}},
      "y": {"field": "y", "type": "quantitative", "scale": {"domain": [0, 1], "nice": false, "zero": false}, "axis": {"title": "Sensitivity", "values": [0,0.1,0.2,0.3,0.4,0.5,0.6,0.7,0.8,0.9,1], "labelExpr": "replace(format(datum.value, '.1~f'), '.', ',')", "labelPadding": 13, "titlePadding": 8}}
    },
    "layer": [
      {
        "data": {"name": "curvesA"},
        "mark": {"type": "line", "interpolate": "step", "strokeWidth": 2.5},
        "encoding": {
          "order": {"value": null},
          "color": {"field": "series", "type": "nominal",
            "scale": {"domain": ["CAD vs LLC","LLC V5","LLC CM5","LLC V4R","CAD vs NoCAD","NoCAD V5","NoCAD CM5","NoCAD V4R"], "range": ["rgba(0,0,0,0)","#ff0000","#1f6fff","#5f5f5f","rgba(0,0,0,0)","#ff0000","#1f6fff","#5f5f5f"]},
            "legend": {"orient": "none", "legendX": 341.75, "legendY": 245.25, "title": null, "padding": 0, "symbolType": "M-3,0H3", "symbolSize": 225, "symbolStrokeWidth": 2.5, "labelFont": "Liberation Sans", "labelFontSize": 18.5, "labelColor": "#2b2b2b", "labelOffset": 17.25, "rowPadding": 9.6, "labelLimit": 400,
              "labelExpr": "{'LLC V5':'V5\u00a0\u00a0\u00a0\u00a0\u00a0\u00a00.72','LLC CM5':'CM5\u00a0\u00a00.72','LLC V4R':'V4R\u00a0\u00a0\u00a00.61','NoCAD V5':'V5\u00a0\u00a0\u00a0\u00a0\u00a0\u00a00.58','NoCAD CM5':'CM5\u00a0\u00a0\u00a00.57','NoCAD V4R':'V4R\u00a0\u00a0\u00a0\u00a00.53'}[datum.label] || datum.label"}},
          "strokeDash": {"field": "series", "type": "nominal",
            "scale": {"domain": ["CAD vs LLC","LLC V5","LLC CM5","LLC V4R","CAD vs NoCAD","NoCAD V5","NoCAD CM5","NoCAD V4R"], "range": [[1,0],[1,0],[1,0],[1,0],[1,0],[7,4],[7,4],[7,4]]},
            "legend": {"orient": "none", "legendX": 341.75, "legendY": 245.25, "title": null, "padding": 0, "symbolType": "M-3,0H3", "symbolSize": 225, "symbolStrokeWidth": 2.5, "labelFont": "Liberation Sans", "labelFontSize": 18.5, "labelColor": "#2b2b2b", "labelOffset": 17.25, "rowPadding": 9.6, "labelLimit": 400,
              "labelExpr": "{'LLC V5':'V5\u00a0\u00a0\u00a0\u00a0\u00a0\u00a00.72','LLC CM5':'CM5\u00a0\u00a00.72','LLC V4R':'V4R\u00a0\u00a0\u00a00.61','NoCAD V5':'V5\u00a0\u00a0\u00a0\u00a0\u00a0\u00a00.58','NoCAD CM5':'CM5\u00a0\u00a0\u00a00.57','NoCAD V4R':'V4R\u00a0\u00a0\u00a0\u00a00.53'}[datum.label] || datum.label"}}
        }
      },
      {
        "data": {"name": "markersA"},
        "transform": [{"filter": "datum.kind == 'open'"}],
        "mark": {"type": "point", "shape": "circle", "filled": false, "size": 170, "strokeWidth": 2, "opacity": 1},
        "encoding": {"color": {"field": "series", "type": "nominal", "legend": null, "scale": {"domain": ["CAD vs LLC","LLC V5","LLC CM5","LLC V4R","CAD vs NoCAD","NoCAD V5","NoCAD CM5","NoCAD V4R"], "range": ["rgba(0,0,0,0)","#ff0000","#1f6fff","#5f5f5f","rgba(0,0,0,0)","#ff0000","#1f6fff","#5f5f5f"]}}}
      },
      {
        "data": {"name": "markersA"},
        "transform": [{"filter": "datum.kind == 'dot'"}],
        "mark": {"type": "point", "shape": "circle", "filled": true, "size": 160, "opacity": 1},
        "encoding": {"color": {"field": "series", "type": "nominal", "legend": null, "scale": {"domain": ["CAD vs LLC","LLC V5","LLC CM5","LLC V4R","CAD vs NoCAD","NoCAD V5","NoCAD CM5","NoCAD V4R"], "range": ["rgba(0,0,0,0)","#ff0000","#1f6fff","#5f5f5f","rgba(0,0,0,0)","#ff0000","#1f6fff","#5f5f5f"]}}}
      },
      {
        "data": {"name": "markersA"},
        "transform": [{"filter": "datum.kind == 'diamond'"}],
        "mark": {"type": "point", "shape": "diamond", "filled": true, "size": 270, "opacity": 1, "stroke": "#000000", "strokeOpacity": 0.35, "strokeWidth": 1},
        "encoding": {"color": {"field": "series", "type": "nominal", "legend": null, "scale": {"domain": ["CAD vs LLC","LLC V5","LLC CM5","LLC V4R","CAD vs NoCAD","NoCAD V5","NoCAD CM5","NoCAD V4R"], "range": ["rgba(0,0,0,0)","#ff0000","#1f6fff","#5f5f5f","rgba(0,0,0,0)","#ff0000","#1f6fff","#5f5f5f"]}}}
      },
      {
        "data": {"name": "labelsA"},
        "mark": {"type": "text", "font": "Liberation Sans", "fontSize": 18.5, "color": "#2b2b2b", "align": "center", "baseline": "middle"},
        "encoding": {"text": {"field": "text"}}
      }
    ]
  },
  {
    "width": 522, "height": 472,
    "title": {"text": "(b)", "orient": "bottom", "frame": "group", "anchor": "middle", "font": "Liberation Serif", "fontSize": 24, "fontWeight": "normal", "color": "#000000", "offset": 10},
    "encoding": {
      "x": {"field": "x", "type": "quantitative", "scale": {"domain": [0, 1], "nice": false, "zero": false}, "axis": {"title": "1-Specificity", "values": [0,0.1,0.2,0.3,0.4,0.5,0.6,0.7,0.8,0.9,1], "labelExpr": "replace(format(datum.value, '.1~f'), '.', ',')", "labelPadding": 12.5, "titlePadding": 19}},
      "y": {"field": "y", "type": "quantitative", "scale": {"domain": [0, 1], "nice": false, "zero": false}, "axis": {"title": "Sensitivity", "values": [0,0.1,0.2,0.3,0.4,0.5,0.6,0.7,0.8,0.9,1], "labelExpr": "replace(format(datum.value, '.1~f'), '.', ',')", "labelPadding": 13, "titlePadding": 12.6}}
    },
    "layer": [
      {
        "data": {"name": "curvesB"},
        "mark": {"type": "line", "interpolate": "step", "strokeWidth": 2.5},
        "encoding": {
          "order": {"value": null},
          "color": {"field": "series", "type": "nominal",
            "scale": {"domain": ["CAD vs LLC","LLC Standard","LLC Standard + CM5","LLC Standard + V4R","CAD vs NoCAD","NoCAD Standard","NoCAD Standard + CM5","NoCAD Standard + V4R"], "range": ["rgba(0,0,0,0)","#ff0000","#1f6fff","#5f5f5f","rgba(0,0,0,0)","#ff0000","#1f6fff","#5f5f5f"]},
            "legend": {"orient": "none", "legendX": 279.65, "legendY": 231.95, "title": null, "padding": 0, "symbolType": "M-3,0H3", "symbolSize": 225, "symbolStrokeWidth": 2.5, "labelFont": "Liberation Sans", "labelFontSize": 18.5, "labelColor": "#2b2b2b", "labelOffset": 17.85, "rowPadding": 11.26, "labelLimit": 400,
              "labelExpr": "{'LLC Standard':'Standard\u00a0\u00a0\u00a0\u00a0\u00a0\u00a0\u00a0\u00a0\u00a0\u00a0\u00a0\u00a0\u00a0\u00a0\u00a00.71','LLC Standard + CM5':'Standard + CM5\u00a0\u00a0\u00a00.71','LLC Standard + V4R':'Standard + V4R\u00a0\u00a0\u00a0\u00a00.69','NoCAD Standard':'Standard\u00a0\u00a0\u00a0\u00a0\u00a0\u00a0\u00a0\u00a0\u00a0\u00a0\u00a0\u00a0\u00a0\u00a0\u00a00.55','NoCAD Standard + CM5':'Standard + CM5\u00a0\u00a0\u00a00.55','NoCAD Standard + V4R':'Standard + V4R\u00a0\u00a0\u00a0\u00a00.53'}[datum.label] || datum.label"}},
          "strokeDash": {"field": "series", "type": "nominal",
            "scale": {"domain": ["CAD vs LLC","LLC Standard","LLC Standard + CM5","LLC Standard + V4R","CAD vs NoCAD","NoCAD Standard","NoCAD Standard + CM5","NoCAD Standard + V4R"], "range": [[1,0],[1,0],[1,0],[1,0],[1,0],[7,4],[7,4],[7,4]]},
            "legend": {"orient": "none", "legendX": 279.65, "legendY": 231.95, "title": null, "padding": 0, "symbolType": "M-3,0H3", "symbolSize": 225, "symbolStrokeWidth": 2.5, "labelFont": "Liberation Sans", "labelFontSize": 18.5, "labelColor": "#2b2b2b", "labelOffset": 17.85, "rowPadding": 11.26, "labelLimit": 400,
              "labelExpr": "{'LLC Standard':'Standard\u00a0\u00a0\u00a0\u00a0\u00a0\u00a0\u00a0\u00a0\u00a0\u00a0\u00a0\u00a0\u00a0\u00a0\u00a00.71','LLC Standard + CM5':'Standard + CM5\u00a0\u00a0\u00a00.71','LLC Standard + V4R':'Standard + V4R\u00a0\u00a0\u00a0\u00a00.69','NoCAD Standard':'Standard\u00a0\u00a0\u00a0\u00a0\u00a0\u00a0\u00a0\u00a0\u00a0\u00a0\u00a0\u00a0\u00a0\u00a0\u00a00.55','NoCAD Standard + CM5':'Standard + CM5\u00a0\u00a0\u00a00.55','NoCAD Standard + V4R':'Standard + V4R\u00a0\u00a0\u00a0\u00a00.53'}[datum.label] || datum.label"}}
        }
      },
      {
        "data": {"name": "markersB"},
        "transform": [{"filter": "datum.kind == 'open'"}],
        "mark": {"type": "point", "shape": "circle", "filled": false, "size": 170, "strokeWidth": 2, "opacity": 1},
        "encoding": {"color": {"field": "series", "type": "nominal", "legend": null, "scale": {"domain": ["CAD vs LLC","LLC Standard","LLC Standard + CM5","LLC Standard + V4R","CAD vs NoCAD","NoCAD Standard","NoCAD Standard + CM5","NoCAD Standard + V4R"], "range": ["rgba(0,0,0,0)","#ff0000","#1f6fff","#5f5f5f","rgba(0,0,0,0)","#ff0000","#1f6fff","#5f5f5f"]}}}
      },
      {
        "data": {"name": "markersB"},
        "transform": [{"filter": "datum.kind == 'dot'"}],
        "mark": {"type": "point", "shape": "circle", "filled": true, "size": 160, "opacity": 1},
        "encoding": {"color": {"field": "series", "type": "nominal", "legend": null, "scale": {"domain": ["CAD vs LLC","LLC Standard","LLC Standard + CM5","LLC Standard + V4R","CAD vs NoCAD","NoCAD Standard","NoCAD Standard + CM5","NoCAD Standard + V4R"], "range": ["rgba(0,0,0,0)","#ff0000","#1f6fff","#5f5f5f","rgba(0,0,0,0)","#ff0000","#1f6fff","#5f5f5f"]}}}
      },
      {
        "data": {"name": "markersB"},
        "transform": [{"filter": "datum.kind == 'diamond'"}],
        "mark": {"type": "point", "shape": "diamond", "filled": true, "size": 270, "opacity": 1, "stroke": "#000000", "strokeOpacity": 0.35, "strokeWidth": 1},
        "encoding": {"color": {"field": "series", "type": "nominal", "legend": null, "scale": {"domain": ["CAD vs LLC","LLC Standard","LLC Standard + CM5","LLC Standard + V4R","CAD vs NoCAD","NoCAD Standard","NoCAD Standard + CM5","NoCAD Standard + V4R"], "range": ["rgba(0,0,0,0)","#ff0000","#1f6fff","#5f5f5f","rgba(0,0,0,0)","#ff0000","#1f6fff","#5f5f5f"]}}}
      },
      {
        "data": {"name": "labelsB"},
        "mark": {"type": "text", "font": "Liberation Sans", "fontSize": 18.5, "color": "#2b2b2b", "align": "center", "baseline": "middle"},
        "encoding": {"text": {"field": "text"}}
      }
    ]
  }
]
}
